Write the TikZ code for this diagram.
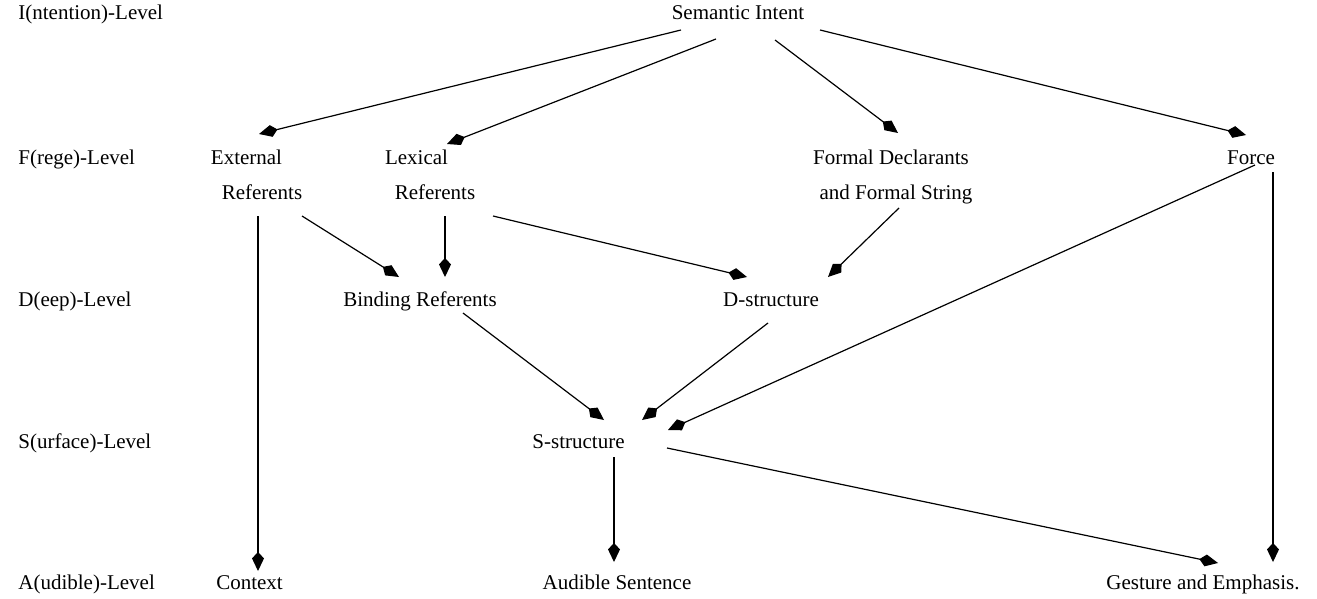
\documentclass[tikz,border=0pt]{standalone}
\usepackage{fontspec}
\setmainfont{Liberation Serif}
\usetikzlibrary{arrows.meta,calc}
\tikzset{
  lbl/.style={inner sep=0pt,anchor=base,font=\fontsize{10.5}{12}\selectfont},
  lvl/.style={lbl,anchor=base west},
  arr/.style={line width=0.6pt,-{Kite[length=9.5pt,width=6pt,inset=3.2pt]}}
}
\begin{document}
\begin{tikzpicture}[x=0.5pt,y=-0.5pt]
\useasboundingbox (0,0) rectangle (1317,599);
\foreach \t/\y [count=\i] in {I(ntention)/20,F(rege)/164,D(eep)/306,S(urface)/448,A(udible)/589}% level names
  \path (18,\y) node[lvl] (lvl\i) {\t-Level};
\foreach \x/\y/\n/\t in {738/20/intent/Semantic Intent,
  246.5/164/ext/External, 262/199/extr/Referents,
  416.5/164/lex/Lexical, 435/199/lexr/Referents,
  891/164/formal/Formal Declarants, 896/199/formalb/and Formal String,
  1251/164/force/Force,
  420/306/bind/Binding Referents, 771/306/dstr/D-structure,
  578.5/448/sstr/S-structure,
  249.5/589/ctx/Context, 617/589/aud/Audible Sentence, 1203/589/gest/Gesture and Emphasis.}
  \path (\x,\y) node[lbl] (\n) {\t};
\foreach \a/\ax/\ay/\b/\bx/\by in {intent/-57/10/ext/12.5/-30,
  intent/-22/19/lex/30.5/-20, intent/37/20/formal/7/-31, intent/82/10/force/-5/-29,
  extr/-4/17/ctx/8.5/-18, extr/40/17/bind/-21/-29,
  lexr/10/17/bind/25/-29, lexr/58/17/dstr/-24/-29, formalb/3/9/dstr/57/-29,
  force/4/1/sstr/89.5/-18, force/22/8/gest/70/-27,
  bind/43/7/sstr/25.5/-28, dstr/-3/17/sstr/63.5/-28,
  sstr/35.5/9/aud/-3/-27, sstr/88.5/0/gest/15/-26}% arrows from node to node
  \draw[arr] ($(\a.base)+(\ax,\ay)$) -- ($(\b.base)+(\bx,\by)$);
\end{tikzpicture}
\end{document}
